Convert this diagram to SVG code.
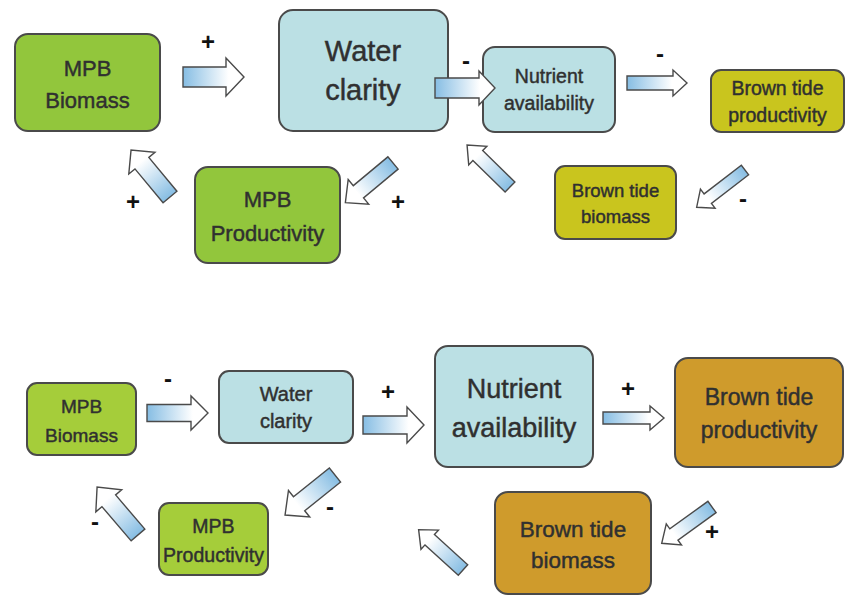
<svg xmlns="http://www.w3.org/2000/svg" width="846" height="596" viewBox="0 0 846 596">
<style>
.node rect{stroke:#4a4a4a;stroke-width:2}
.green rect{fill:#92c63c}
.lgreen rect{fill:#a5cd3a}
.blue rect{fill:#bbe0e4}
.yellow rect{fill:#c9c51e}
.gold rect{fill:#cf9b2c}
text{font-family:"Liberation Sans",Arial,sans-serif;fill:#303030;text-anchor:middle}
.node text{stroke:#303030;stroke-width:0.45}
.sign{font-size:24px;font-weight:bold;fill:#111}
.arrow{fill:url(#ag);stroke:#4a4a4a;stroke-width:1.4;stroke-linejoin:miter}
</style>
<defs>
<linearGradient id="ag" x1="0" y1="0" x2="1" y2="0">
<stop offset="0" stop-color="#86bde3"/>
<stop offset="0.75" stop-color="#ffffff"/>
<stop offset="1" stop-color="#ffffff"/>
</linearGradient>
</defs>
<rect width="846" height="596" fill="#fff"/>

<!-- top diagram nodes -->
<g id="t-mpb-biomass" class="node green"><rect x="15" y="34" width="145" height="97" rx="13"/><text x="87.5" y="76" font-size="22">MPB</text><text x="87.5" y="108" font-size="22">Biomass</text></g>
<g id="t-water-clarity" class="node blue"><rect x="279" y="10" width="169" height="121" rx="14"/><text x="363" y="61" font-size="29">Water</text><text x="363" y="100" font-size="29">clarity</text></g>
<g id="t-nutrient" class="node blue"><rect x="483" y="47" width="132" height="85" rx="12"/><text x="549" y="83" font-size="19.5">Nutrient</text><text x="549" y="110" font-size="19.5">availability</text></g>
<g id="t-bt-productivity" class="node yellow"><rect x="711" y="70" width="133" height="62" rx="10"/><text x="777.5" y="95" font-size="19.5">Brown tide</text><text x="777.5" y="122" font-size="19.5">productivity</text></g>
<g id="t-bt-biomass" class="node yellow"><rect x="555" y="166" width="121" height="73" rx="10"/><text x="615.5" y="197" font-size="18.5">Brown tide</text><text x="615.5" y="223" font-size="18.5">biomass</text></g>
<g id="t-mpb-productivity" class="node green"><rect x="195" y="167" width="145" height="96" rx="13"/><text x="267.5" y="207" font-size="22">MPB</text><text x="267.5" y="241" font-size="22">Productivity</text></g>

<!-- bottom diagram nodes -->
<g id="b-mpb-biomass" class="node lgreen"><rect x="27" y="383" width="109" height="72" rx="10"/><text x="81.5" y="413" font-size="19">MPB</text><text x="81.5" y="442" font-size="19">Biomass</text></g>
<g id="b-water-clarity" class="node blue"><rect x="219" y="371" width="134" height="72" rx="10"/><text x="286" y="401" font-size="20">Water</text><text x="286" y="428" font-size="20">clarity</text></g>
<g id="b-nutrient" class="node blue"><rect x="435" y="346" width="158" height="121" rx="13"/><text x="514" y="398" font-size="27">Nutrient</text><text x="514" y="437" font-size="27">availability</text></g>
<g id="b-bt-productivity" class="node gold"><rect x="675" y="358" width="168" height="109" rx="13"/><text x="759" y="405" font-size="23">Brown tide</text><text x="759" y="438" font-size="23">productivity</text></g>
<g id="b-bt-biomass" class="node gold"><rect x="495" y="492" width="156" height="102" rx="13"/><text x="573" y="537" font-size="22.5">Brown tide</text><text x="573" y="568" font-size="22.5">biomass</text></g>
<g id="b-mpb-productivity" class="node lgreen"><rect x="159" y="503" width="109" height="72" rx="10"/><text x="213.5" y="533" font-size="19.5">MPB</text><text x="213.5" y="562" font-size="19.5">Productivity</text></g>

<!-- connectors -->
<g id="connectors">
<path class="arrow" transform="translate(183,77)" d="M0,-10H43V-19L61,0L43,19V10H0Z"/>
<path class="arrow" transform="translate(435,88)" d="M0,-10H44V-17L60,0L44,17V10H0Z"/>
<path class="arrow" transform="translate(627,83)" d="M0,-7H46V-13L60,0L46,13V7H0Z"/>
<path class="arrow" transform="translate(393,163) rotate(140.2)" d="M0,-8H45V-16L62,0L45,16V8H0Z"/>
<path class="arrow" transform="translate(170,197) rotate(-129.7)" d="M0,-9H44V-17L61,0L44,17V9H0Z"/>
<path class="arrow" transform="translate(745,170) rotate(142.4)" d="M0,-6H47V-12L61,0L47,12V6H0Z"/>
<path class="arrow" transform="translate(510,187) rotate(-135.7)" d="M0,-7H45V-13L60,0L45,13V7H0Z"/>

<path class="arrow" transform="translate(147,413)" d="M0,-8.5H44V-17L61,0L44,17V8.5H0Z"/>
<path class="arrow" transform="translate(363,425)" d="M0,-9H44V-18L61,0L44,18V9H0Z"/>
<path class="arrow" transform="translate(603,418)" d="M0,-6H47V-12L61,0L47,12V6H0Z"/>
<path class="arrow" transform="translate(335,475) rotate(141.3)" d="M0,-9H46V-17L64,0L46,17V9H0Z"/>
<path class="arrow" transform="translate(138,535) rotate(-130.5)" d="M0,-9H45V-17L63,0L45,17V9H0Z"/>
<path class="arrow" transform="translate(712,507) rotate(144.2)" d="M0,-7H47V-13L62,0L47,13V7H0Z"/>
<path class="arrow" transform="translate(463,570) rotate(-137.7)" d="M0,-7H45V-13L60,0L45,13V7H0Z"/>

<text class="sign" x="208" y="50">+</text>
<text class="sign" x="466" y="69">-</text>
<text class="sign" x="660" y="62">-</text>
<text class="sign" x="743" y="207">-</text>
<text class="sign" x="398" y="210">+</text>
<text class="sign" x="133" y="210">+</text>

<text class="sign" x="168" y="387">-</text>
<text class="sign" x="388" y="400">+</text>
<text class="sign" x="628" y="397">+</text>
<text class="sign" x="712" y="540">+</text>
<text class="sign" x="330" y="515">-</text>
<text class="sign" x="95" y="530">-</text>
</g>
</svg>
